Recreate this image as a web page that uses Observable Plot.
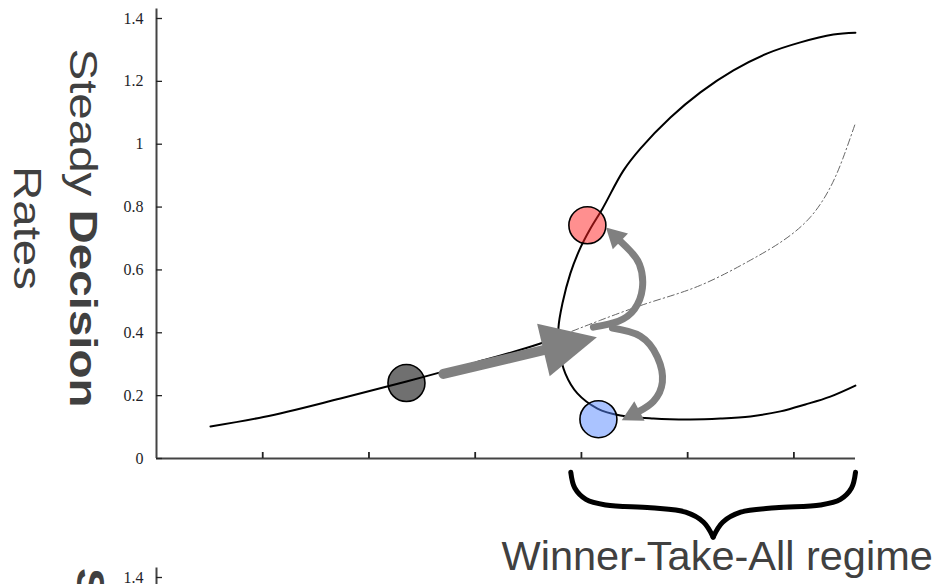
<!DOCTYPE html>
<html>
<head>
<meta charset="utf-8">
<script src="https://cdn.jsdelivr.net/npm/d3@7"></script>
<script src="https://cdn.jsdelivr.net/npm/@observablehq/plot@0.6"></script>
<style>
  html, body { margin: 0; padding: 0; background: #fff; overflow: hidden; }
  #fig { position: relative; width: 938px; height: 584px; overflow: hidden; }
  #fig svg { display: block; }
  .panel2 { position: absolute; left: 0; top: 559px; }
  .ylab {
    position: absolute;
    font-family: "Liberation Sans", Arial, sans-serif;
    font-size: 38px;
    color: #404040;
    line-height: 56px;
    white-space: nowrap;
  }
  .ylab.main {
    text-align: center;
    transform: translate(-50%, -50%) rotate(90deg) scale(1.25, 1);
  }
  .ylab.second {
    text-align: left;
    transform-origin: 0 0;
    transform: rotate(90deg) scale(1.25, 1);
  }
</style>
</head>
<body>
<div id="fig"></div>
<script>
// Axis ticks
const yTicks = [0, 0.2, 0.4, 0.6, 0.8, 1, 1.2, 1.4];
const yTickLabels = ["0", "0.2", "0.4", "0.6", "0.8", "1", "1.2", "1.4"];
const xTicks = [1, 2, 3, 4, 5, 6];
const xMax = 6.58;
const yAxisTop = 1.43;

// Symmetric stable branch (both populations fire at the same rate)
const symX = [0.508, 1.007, 1.732, 2.353, 3.002, 3.614, 3.784];
const symY = [0.102, 0.132, 0.191, 0.245, 0.305, 0.366, 0.386];

// Asymmetric stable branches: winner (upper) and loser (lower), traced as one fold
const foldX = [6.579, 6.372, 6.061, 5.751, 5.431, 5.120, 4.838, 4.555, 4.395, 4.198, 4.085, 3.991, 3.896, 3.821,
               3.784, 3.793, 3.849, 3.962, 4.151, 4.367, 4.678, 5.026, 5.308, 5.591, 5.873, 6.108, 6.343, 6.579];
const foldY = [1.355, 1.349, 1.324, 1.289, 1.235, 1.165, 1.085, 0.986, 0.916, 0.795, 0.732, 0.671, 0.589, 0.493,
               0.417, 0.344, 0.270, 0.207, 0.159, 0.137, 0.127, 0.124, 0.127, 0.134, 0.150, 0.172, 0.197, 0.232];

// Unstable symmetric branch past the bifurcation
const unstableX = [3.784, 4.179, 4.649, 5.120, 5.591, 5.901, 6.155, 6.343, 6.466, 6.579];
const unstableY = [0.388, 0.440, 0.497, 0.551, 0.631, 0.694, 0.768, 0.863, 0.959, 1.067];

// Network states
const stateNames = ["undecided", "winner", "loser"];
const stateX = [2.353, 4.056, 4.160];
const stateY = [0.240, 0.742, 0.125];
const stateFill = ["#000000", "#ff1f1f", "#5587ff"];
const stateAlpha = [0.56, 0.5, 0.5];

// Transition arrows
const pushX = [2.701, 3.642];
const pushY = [0.269, 0.345];
const toWinnerX = [4.113, 4.348, 4.499, 4.574, 4.546, 4.452, 4.367];
const toWinnerY = [0.418, 0.437, 0.475, 0.542, 0.618, 0.663, 0.691];
const toLoserX = [4.292, 4.555, 4.715, 4.762, 4.678, 4.546];
const toLoserY = [0.415, 0.389, 0.323, 0.243, 0.182, 0.151];

// Winner-take-all regime and its brace
const regimeLabel = "Winner-Take-All regime";
const regimeStart = 3.9;
const regimeEnd = 6.58;
const braceTop = -0.044;
const braceT = [0, 0.028, 0.106, 0.246, 0.561, 0.807, 0.933, 1];
const braceDepth = [0, 0.050, 0.086, 0.104, 0.113, 0.127, 0.159, 0.206];
const regimeLabelY = -0.355;

const pts = (xs, ys) => xs.map((x, i) => ({x, y: ys[i]}));

const states = stateNames.map((name, i) => ({name, x: stateX[i], y: stateY[i], fill: stateFill[i], alpha: stateAlpha[i]}));

const half = (regimeEnd - regimeStart) / 2;
const brace = [
  ...braceT.map((t, i) => ({side: "left", x: regimeStart + t * half, y: braceTop - braceDepth[i]})),
  ...braceT.map((t, i) => ({side: "right", x: regimeEnd - t * half, y: braceTop - braceDepth[i]}))
];

// Filled triangular arrowhead as an SVG marker
function triangleHead(len, halfWidth) {
  return (color) => {
    const m = d3.create("svg:marker")
      .attr("markerUnits", "userSpaceOnUse")
      .attr("orient", "auto")
      .attr("overflow", "visible")
      .attr("markerWidth", 1)
      .attr("markerHeight", 1)
      .attr("refX", 0)
      .attr("refY", 0);
    m.append("path")
      .attr("d", `M0,${-halfWidth}L${len},0L0,${halfWidth}Z`)
      .attr("fill", color)
      .attr("stroke", "none");
    return m.node();
  };
}

const frame = {
  width: 938,
  height: 584,
  marginTop: 18,
  marginLeft: 156,
  marginRight: 83,
  marginBottom: 126,
  x: {domain: [0, xMax], axis: null},
  y: {domain: [0, 1.4], axis: null},
  color: {type: "identity"},
  style: {background: "transparent", overflow: "visible"}
};

function axes() {
  return [
    Plot.ruleX([0], {y1: 0, y2: yAxisTop, stroke: "#444", strokeWidth: 2}),
    Plot.ruleY([0], {x1: 0, x2: xMax, stroke: "#444", strokeWidth: 2}),
    Plot.axisY(yTicks, {tickSize: -6, fill: "none", stroke: "#222", strokeWidth: 1.3, label: null}),
    Plot.axisY(yTicks, {
      tickSize: 0, tickPadding: 13, label: null,
      tickFormat: (d) => yTickLabels[yTicks.indexOf(d)],
      fontFamily: "Liberation Serif", fontSize: 16, fill: "#1e1e28"
    }),
    Plot.axisX(xTicks, {tickSize: -6, fill: "none", stroke: "#222", strokeWidth: 1.8, label: null})
  ];
}

const chart = Plot.plot({
  ...frame,
  marks: [
    ...axes(),
    Plot.line(pts(unstableX, unstableY), {x: "x", y: "y", curve: "natural", stroke: "#666", strokeWidth: 1, strokeDasharray: "7,3,1.5,3"}),
    Plot.line(pts(symX, symY), {x: "x", y: "y", curve: "monotone-x", stroke: "#000", strokeWidth: 2}),
    Plot.line(pts(foldX, foldY), {x: "x", y: "y", curve: "catmull-rom", stroke: "#000", strokeWidth: 2}),
    Plot.dot(states, {x: "x", y: "y", r: 18.5, fill: "fill", fillOpacity: "alpha", stroke: "#000", strokeWidth: 1.6}),
    Plot.line(pts(pushX, pushY), {x: "x", y: "y", stroke: "#808080", strokeWidth: 10, markerEnd: triangleHead(55, 27)}),
    Plot.line(pts(toWinnerX, toWinnerY), {x: "x", y: "y", curve: "natural", stroke: "#808080", strokeWidth: 7, markerEnd: triangleHead(20, 11)}),
    Plot.line(pts(toLoserX, toLoserY), {x: "x", y: "y", curve: "natural", stroke: "#808080", strokeWidth: 7, markerEnd: triangleHead(20, 11)}),
    Plot.line(brace, {x: "x", y: "y", z: "side", curve: "catmull-rom", stroke: "#000", strokeWidth: 5}),
    Plot.text([regimeLabel], {
      x: (regimeStart + regimeEnd) / 2, y: regimeLabelY, dx: 4, text: (d) => d,
      lineAnchor: "bottom", textAnchor: "middle",
      fontFamily: "Liberation Sans", fontSize: 41.5, fill: "#404040"
    })
  ]
});

const fig = document.getElementById("fig");
fig.appendChild(chart);

const ylab = document.createElement("div");
ylab.className = "ylab main";
ylab.style.left = "55px";
ylab.style.top = "228px";
ylab.innerHTML = "Steady <b>Decision</b><br>Rates";
fig.appendChild(ylab);

// Second panel: same axes, further down the page
const panel2 = document.createElement("div");
panel2.className = "panel2";
panel2.appendChild(Plot.plot({...frame, marks: axes()}));
fig.appendChild(panel2);

const ylab2 = document.createElement("div");
ylab2.className = "ylab second";
ylab2.style.left = "118px";
ylab2.style.top = "568px";
ylab2.innerHTML = "<b>Steady</b> Decision Rates";
fig.appendChild(ylab2);
</script>
</body>
</html>
